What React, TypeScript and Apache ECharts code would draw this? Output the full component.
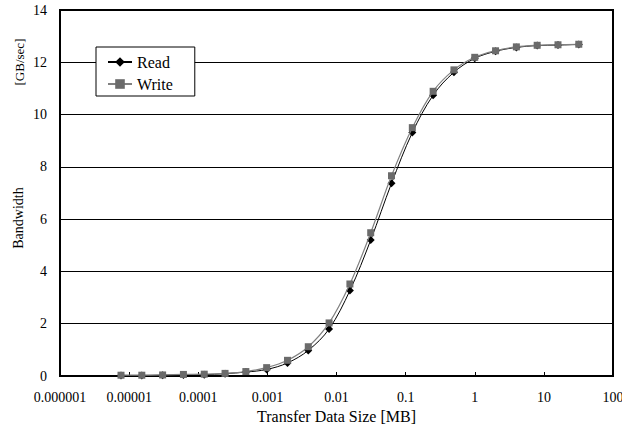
import React, { useEffect, useRef } from "react";
import * as echarts from "echarts";

// Transfer sizes in bytes (converted to MB = 2^20 bytes for plotting)
const transferBytes = [
  8, 16, 32, 64, 128, 256, 512, 1024, 2048, 4096, 8192, 16384, 32768, 65536,
  131072, 262144, 524288, 1048576, 2097152, 4194304, 8388608, 16777216, 33554432,
];
// Bandwidth [GB/sec]
const readBW = [
  0.02, 0.02, 0.03, 0.04, 0.05, 0.09, 0.15, 0.25, 0.5, 0.98, 1.8, 3.27, 5.2,
  7.37, 9.31, 10.74, 11.62, 12.15, 12.42, 12.57, 12.64, 12.66, 12.68,
];
const writeBW = [
  0.03, 0.03, 0.04, 0.06, 0.07, 0.1, 0.17, 0.32, 0.6, 1.12, 2.03, 3.52, 5.48,
  7.66, 9.5, 10.89, 11.71, 12.19, 12.44, 12.59, 12.65, 12.67, 12.69,
];
const xTickLabels = [
  "0.000001", "0.00001", "0.0001", "0.001", "0.01", "0.1", "1", "10", "100",
];
const seriesNames = ["Read", "Write"];

const FONT = "Liberation Serif";

export default function App() {
  const ref = useRef<HTMLDivElement>(null);
  useEffect(() => {
    const chart = echarts.init(ref.current!, null, { renderer: "svg" });
    const toMB = (b: number) => b / 1048576;
    chart.setOption({
      animation: false,
      backgroundColor: "#fff",
      textStyle: { fontFamily: FONT, color: "#000" },
      grid: {
        left: 60,
        right: 9,
        top: 10,
        bottom: 51,
        containLabel: false,
        outerBoundsMode: "none",
        show: true,
        borderColor: "#000",
        borderWidth: 2,
        backgroundColor: "transparent",
      },
      legend: {
        orient: "vertical",
        left: 96,
        top: 47,
        backgroundColor: "#fff",
        borderColor: "#000",
        borderWidth: 1,
        padding: [7, 22, 4, 11],
        itemWidth: 24,
        itemHeight: 12,
        itemGap: 6,
        textStyle: { fontSize: 16, color: "#000", fontFamily: FONT },
        data: seriesNames,
      },
      xAxis: {
        type: "log",
        logBase: 10,
        min: 1e-6,
        max: 100,
        axisLine: { show: true, lineStyle: { color: "#000", width: 2 } },
        axisTick: { show: true, inside: true, length: 4, lineStyle: { color: "#000", width: 1 } },
        axisLabel: {
          formatter: (v: number) => xTickLabels[Math.round(Math.log10(v)) + 6] ?? "",
          color: "#000",
          fontSize: 14,
          fontFamily: FONT,
          margin: 14,
          hideOverlap: false,
          alignMinLabel: "center",
          alignMaxLabel: "center",
        },
        splitLine: { show: false },
        minorTick: { show: false },
        name: "Transfer Data Size [MB]",
        nameLocation: "middle",
        nameGap: 30,
        nameTextStyle: { fontSize: 16, color: "#000", fontFamily: FONT },
      },
      yAxis: {
        type: "value",
        min: 0,
        max: 14,
        interval: 2,
        axisLine: { show: true, lineStyle: { color: "#000", width: 2 } },
        axisTick: { show: false },
        axisLabel: { color: "#000", fontSize: 14, fontFamily: FONT, margin: 13 },
        splitLine: { show: true, lineStyle: { color: "#000", width: 1 } },
      },
      graphic: [
        {
          type: "text",
          x: 18,
          y: 218,
          rotation: Math.PI / 2,
          style: {
            text: "Bandwidth",
            font: `14px ${FONT}`,
            fill: "#000",
            align: "center",
            verticalAlign: "middle",
          },
        },
        {
          type: "text",
          x: 19,
          y: 62,
          rotation: Math.PI / 2,
          style: {
            text: "[GB/sec]",
            font: `13px ${FONT}`,
            fill: "#000",
            align: "center",
            verticalAlign: "middle",
          },
        },
      ],
      series: [
        {
          name: seriesNames[0],
          type: "line",
          smooth: 0.35,
          data: transferBytes.map((b, i) => [toMB(b), readBW[i]]),
          symbol: "diamond",
          symbolSize: 8,
          itemStyle: { color: "#000" },
          lineStyle: { color: "#000", width: 1 },
          z: 3,
        },
        {
          name: seriesNames[1],
          type: "line",
          smooth: 0.35,
          data: transferBytes.map((b, i) => [toMB(b), writeBW[i]]),
          symbol: "rect",
          symbolSize: 7,
          itemStyle: { color: "#6b6b6b" },
          lineStyle: { color: "#808080", width: 1.2 },
          z: 4,
        },
      ],
    });
    return () => chart.dispose();
  }, []);
  return (
    <div
      ref={ref}
      style={{ position: "fixed", left: 0, top: 0, width: 622, height: 427 }}
    />
  );
}
